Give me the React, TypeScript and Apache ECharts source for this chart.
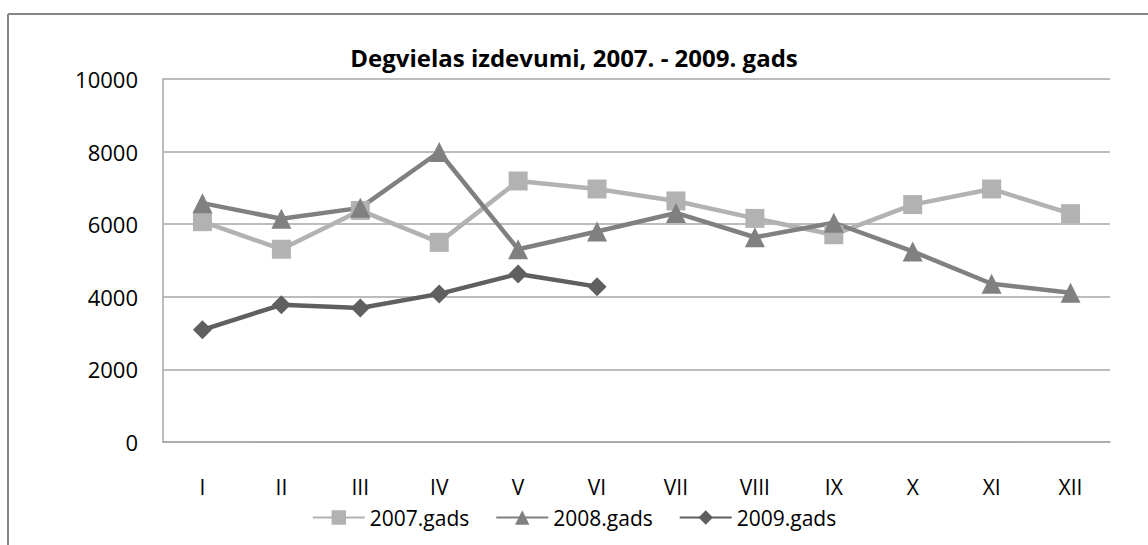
import React, { useEffect, useRef } from "react";
import * as echarts from "echarts";

const months = ["I", "II", "III", "IV", "V", "VI", "VII", "VIII", "IX", "X", "XI", "XII"];
const y2007 = [6070, 5310, 6380, 5500, 7190, 6970, 6640, 6160, 5710, 6540, 6970, 6290];
const y2008 = [6580, 6150, 6450, 7990, 5310, 5800, 6310, 5640, 6040, 5250, 4360, 4110];
const y2009 = [3090, 3780, 3690, 4080, 4630, 4280];
const yTicks = { min: 0, max: 10000, interval: 2000 };
const seriesNames = ["2007.gads", "2008.gads", "2009.gads"];

const FONT = "'Open Sans', sans-serif";

export default function App() {
  const ref = useRef<HTMLDivElement>(null);
  useEffect(() => {
    if (!ref.current) return;
    const chart = echarts.init(ref.current, null, { renderer: "svg" });
    chart.setOption({
      animation: false,
      backgroundColor: "#ffffff",
      title: {
        text: "Degvielas izdevumi, 2007. - 2009. gads",
        left: "center",
        top: 40,
        textStyle: { fontFamily: FONT, fontSize: 24, fontWeight: "bold", color: "#000" },
      },
      legend: {
        bottom: 12,
        left: "center",
        itemWidth: 52,
        itemHeight: 18,
        itemGap: 26,
        textStyle: { fontFamily: FONT, fontSize: 21, color: "#000" },
        data: seriesNames,
      },
      grid: { left: 163, top: 79, right: 38, bottom: 103 },
      xAxis: {
        type: "category",
        data: months,
        boundaryGap: true,
        axisLine: { lineStyle: { color: "#a6a6a6", width: 1.5 } },
        axisTick: { show: false },
        axisLabel: { fontFamily: FONT, fontSize: 21, color: "#000", margin: 34 },
      },
      yAxis: {
        type: "value",
        min: yTicks.min,
        max: yTicks.max,
        interval: yTicks.interval,
        axisLine: { show: true, lineStyle: { color: "#a6a6a6", width: 1.5 } },
        axisTick: { show: false },
        splitLine: { lineStyle: { color: "#a6a6a6", width: 1.5 } },
        axisLabel: {
          fontFamily: FONT,
          fontSize: 22,
          color: "#000",
          margin: 25,
          formatter: (v: number) => String(v),
        },
      },
      series: [
        {
          name: seriesNames[0],
          type: "line",
          data: y2007,
          symbol: "rect",
          symbolSize: 19,
          lineStyle: { color: "#b2b2b2", width: 4.5 },
          itemStyle: { color: "#b2b2b2" },
        },
        {
          name: seriesNames[1],
          type: "line",
          data: y2008,
          symbol: "triangle",
          symbolSize: 20,
          lineStyle: { color: "#808080", width: 4.5 },
          itemStyle: { color: "#808080" },
        },
        {
          name: seriesNames[2],
          type: "line",
          data: y2009,
          symbol: "diamond",
          symbolSize: [19, 19],
          lineStyle: { color: "#5f5f5f", width: 4.5 },
          itemStyle: { color: "#5f5f5f" },
        },
      ],
      graphic: [
        { type: "line", shape: { x1: 8, y1: 14, x2: 1148, y2: 14 }, style: { stroke: "#868686", lineWidth: 2 } },
        { type: "line", shape: { x1: 8, y1: 14, x2: 8, y2: 545 }, style: { stroke: "#868686", lineWidth: 2 } },
      ],
    });
    return () => chart.dispose();
  }, []);
  return <div ref={ref} style={{ position: "fixed", left: 0, top: 0, width: 1148, height: 545 }} />;
}
